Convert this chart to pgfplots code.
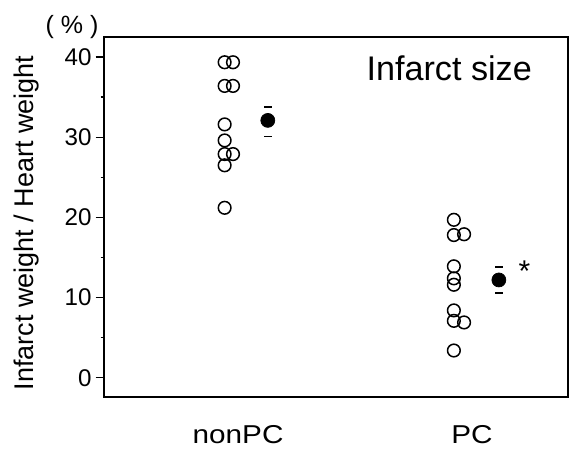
\documentclass[border=0pt]{standalone}
\usepackage{pgfplots}
\pgfplotsset{compat=1.18}
\usepackage{fontspec}
\setmainfont{Liberation Sans}
\newfontfamily\widefont[FakeStretch=1.15]{Liberation Sans}

\begin{document}
\begin{tikzpicture}
% page = 571 x 448 px at 0.6pt per px
\useasboundingbox (-62.4pt,-30.6pt) rectangle (280.2pt,238.2pt);
\begin{axis}[
    at={(0,0)}, anchor=south west,
    scale only axis,
    width=278.4pt, height=216pt,
    xmin=0, xmax=10,
    ymin=-2.4, ymax=42.5,
    axis line style={line width=0.9pt},
    xtick={2.89,7.93},
    xticklabels={nonPC,PC},
    major x tick style={draw=none},
    xticklabel style={font=\widefont\fontsize{15.5}{17}\selectfont, anchor=base, yshift=-22.8pt},
    ytick={0,10,20,30,40},
    minor ytick={5,15,25,35},
    tick align=outside,
    ytick pos=left,
    major tick length=5pt,
    minor tick length=2pt,
    every tick/.style={black, line width=0.8pt},
    yticklabel style={font=\fontsize{14.5}{16}\selectfont, xshift=1pt},
    /pgf/number format/assume math mode=true,
    ylabel={Infarct weight / Heart weight},
    ylabel style={font=\fontsize{16.2}{18}\selectfont, at={(axis description cs:-0.168,0.483)}, anchor=center},
    clip=false,
]
% individual values, open circles
\addplot[only marks, mark=o, mark size=3.8pt, line width=0.9pt] coordinates {
    (2.60,39.35) (2.78,39.35)
    (2.60,36.4)  (2.78,36.4)
    (2.60,31.6)
    (2.60,29.6)
    (2.60,27.9)  (2.78,27.9)
    (2.60,26.5)
    (2.60,21.2)
};
\addplot[only marks, mark=o, mark size=3.8pt, line width=0.9pt] coordinates {
    (7.54,19.7)
    (7.54,17.8)  (7.76,17.9)
    (7.54,13.9)
    (7.54,12.4)
    (7.54,11.6)
    (7.54,8.4)
    (7.54,7.1)   (7.76,6.9)
    (7.54,3.4)
};
% mean
\addplot[only marks, mark=*, mark size=4.2pt, fill=black] coordinates {
    (3.53,32.1) (8.51,12.2)
};
% SE caps
\addplot[only marks, mark=-, mark size=2.4pt, line width=1pt] coordinates {
    (3.53,33.8) (3.53,30.1)
    (8.51,13.8) (8.51,10.6)
};
\node[font=\fontsize{20.5}{22}\selectfont, anchor=base] at (axis cs:7.44,37.1) {Infarct size};
\node[font=\fontsize{18}{20}\selectfont] at (axis cs:9.06,13.3) {*};
\node[font=\fontsize{15}{17}\selectfont] at (axis description cs:-0.069,1.028) {( \% )};
\end{axis}
\end{tikzpicture}
\end{document}
